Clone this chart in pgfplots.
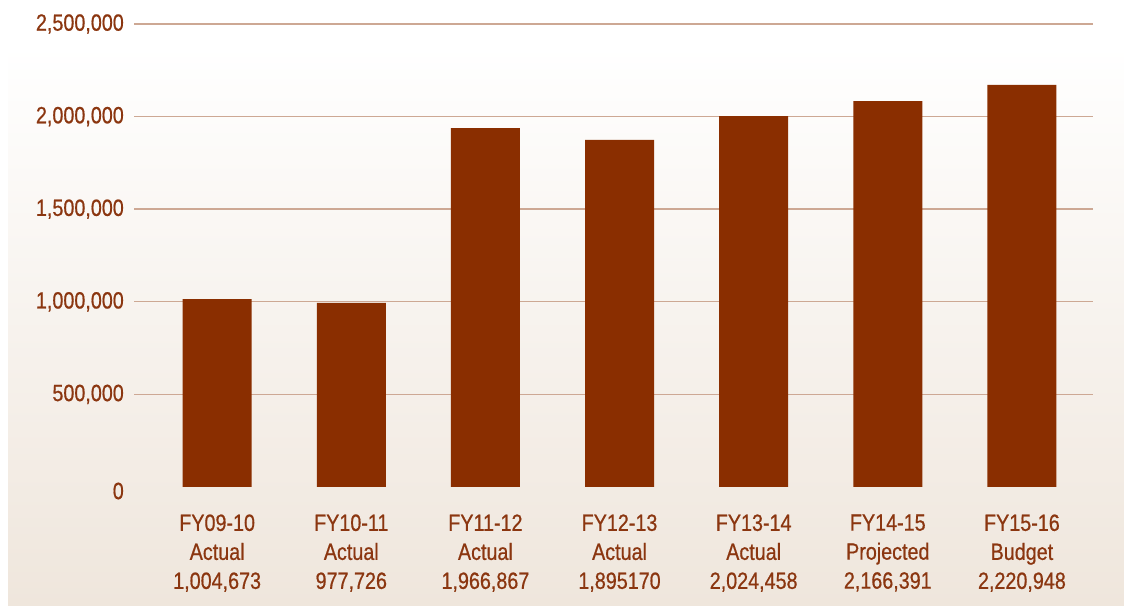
\documentclass[border=0pt]{standalone}
\usepackage{fontspec}
\setmainfont{Liberation Sans}[FakeStretch=0.84, FakeBold=0.6]
\usepackage{pgfplots}
\pgfplotsset{compat=1.18}
\definecolor{barc}{RGB}{138,46,0}
\definecolor{txt}{RGB}{139,54,16}
\definecolor{gridc}{RGB}{205,168,148}
\definecolor{bgbot}{RGB}{239,230,220}
\begin{document}
\begin{tikzpicture}
\path[use as bounding box] (0pt,0pt) rectangle (1124pt,605pt);
\shade[top color=white, bottom color=bgbot] (8pt,0pt) rectangle (1124pt,560pt);
\begin{axis}[
  at={(134pt,118pt)}, anchor=south west,
  scale only axis, width=959pt, height=463pt,
  xmin=-0.62, xmax=6.53, ymin=0, ymax=2500000,
  ytick={500000,1000000,1500000,2000000,2500000},
  extra y ticks={0},
  extra y tick style={grid=none, yticklabel style={yshift=-4pt}},
  scaled y ticks=false,
  /pgf/number format/fixed, /pgf/number format/precision=0,
  /pgf/number format/1000 sep={,}, /pgf/number format/assume math mode=true,
  ymajorgrids, grid style={gridc, line width=1.4pt},
  axis line style={draw=none}, tick style={draw=none},
  xtick=data,
  xticklabels={{FY09-10\\Actual\\1,004,673},{FY10-11\\Actual\\977,726},{FY11-12\\Actual\\1,966,867},{FY12-13\\Actual\\1,895170},{FY13-14\\Actual\\2,024,458},{FY14-15\\Projected\\2,166,391},{FY15-16\\Budget\\2,220,948}},
  xticklabel style={align=center, font=\fontsize{23.5}{29}\selectfont, text=txt, inner sep=0pt, yshift=-23pt},
  yticklabel style={font=\fontsize{23.5}{28}\selectfont, text=txt, inner sep=0pt, xshift=-10pt},
  ybar, bar width=69pt, bar shift=0pt,
]
\addplot[fill=barc, draw=none] coordinates {(0,1015000) (1,994000) (2,1938000) (3,1874000) (4,2003000) (5,2084000) (6,2171000)};
\end{axis}
\end{tikzpicture}
\end{document}
